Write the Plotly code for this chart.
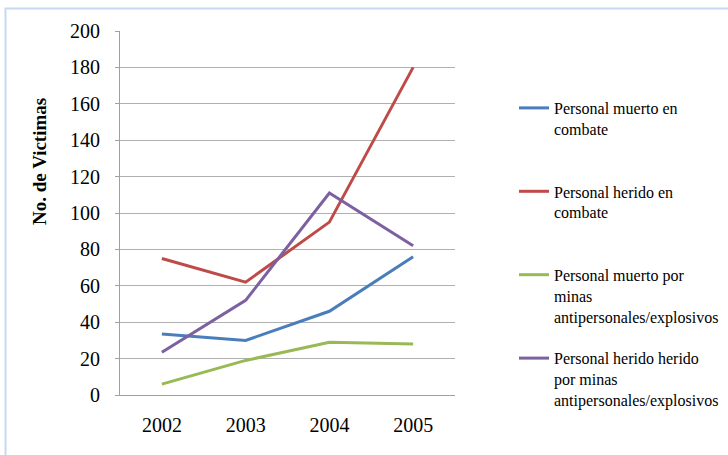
import plotly.graph_objects as go

years = ["2002", "2003", "2004", "2005"]
muerto_combate = [33.5, 30, 46, 76]
herido_combate = [75, 62, 95, 180]
muerto_minas = [6, 19, 29, 28]
herido_minas = [23.5, 52, 111, 82]

names = [
    "Personal muerto en<br>combate<br> ",
    "Personal herido en<br>combate<br> ",
    "Personal muerto por<br>minas<br>antipersonales/explosivos",
    "Personal herido herido<br>por minas<br>antipersonales/explosivos",
]
colors = ["#4a7ebb", "#be4b48", "#98b954", "#7d60a0"]
series = [muerto_combate, herido_combate, muerto_minas, herido_minas]

SERIF = "Liberation Serif"

fig = go.Figure()
for i, (n, c, s) in enumerate(zip(names, colors, series)):
    fig.add_trace(go.Scatter(x=years, y=s, mode="lines", name=n,
                             line=dict(color=c, width=3),
                             legendgroup=f"g{i}"))

L, R, T, B = 120, 273, 31, 60
W, H = 728, 455
pw, ph = W - L - R, H - T - B

def px2x(px):
    return (px - L) / pw

def px2y(py):
    return (H - B - py) / ph

fig.update_layout(
    width=W, height=H,
    margin=dict(l=L, r=R, t=T, b=B, autoexpand=False),
    paper_bgcolor="white", plot_bgcolor="white",
    font=dict(family=SERIF, color="black"),
    showlegend=True,
    legend=dict(x=px2x(514), y=px2y(91), xanchor="left", yanchor="top",
                font=dict(size=16, family=SERIF, color="black"),
                tracegroupgap=18, valign="top", bgcolor="rgba(0,0,0,0)"),
    xaxis=dict(type="category", range=[-0.5, 3.5], showgrid=False,
               showline=True, linecolor="#a0a0a0", linewidth=1,
               ticks="", tickfont=dict(size=20, family=SERIF), ticklabelstandoff=12,
               zeroline=False, fixedrange=True),
    yaxis=dict(range=[0, 200], dtick=20, showgrid=True, gridcolor="#b0b0b0",
               gridwidth=1, showline=True, linecolor="#a0a0a0", linewidth=1,
               ticks="outside", ticklen=4, tickcolor="#a0a0a0",
               tickfont=dict(size=20, family=SERIF), ticklabelstandoff=11,
               zeroline=False, fixedrange=True),
    annotations=[dict(text="<b>No. de Victimas</b>", textangle=-90,
                      x=px2x(39), y=px2y(162), xref="paper", yref="paper",
                      xanchor="center", yanchor="middle",
                      showarrow=False, font=dict(size=19, color="black", family=SERIF))],
    shapes=[dict(type="rect", xref="paper", yref="paper",
                 x0=px2x(5.5), x1=px2x(740), y0=px2y(470), y1=px2y(8.5),
                 line=dict(color="#c6d9f1", width=2), layer="below")],
)

fig.write_html("out.html")
